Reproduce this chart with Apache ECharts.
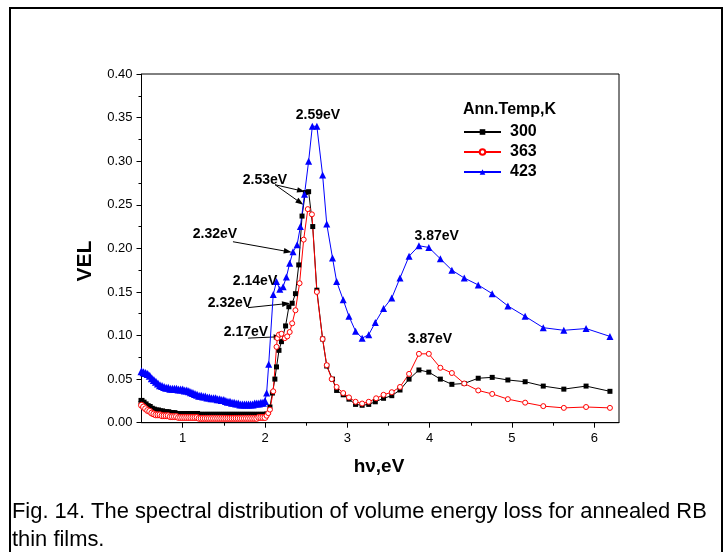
<!DOCTYPE html>
<html><head><meta charset="utf-8">
<script src="https://cdn.jsdelivr.net/npm/echarts@6/dist/echarts.min.js"></script>
<style>html,body{margin:0;padding:0;background:#fff}#c{width:726px;height:552px}</style>
</head><body><div id="c"></div>
<script>
// ---- data (photon energy hv in eV, VEL) ----
const denseE = [0.500,0.525,0.550,0.575,0.600,0.625,0.650,0.675,0.700,0.725,
  0.750,0.775,0.800,0.825,0.850,0.875,0.900,0.925,0.950,0.975,
  1.000,1.025,1.050,1.075,1.100,1.125,1.150,1.175,1.200,1.225,
  1.250,1.275,1.300,1.325,1.350,1.375,1.400,1.425,1.450,1.475,
  1.500,1.525,1.550,1.575,1.600,1.625,1.650,1.675,1.700,1.725,
  1.750,1.775,1.800,1.825,1.850,1.875,1.900,1.925,1.950,1.975,
  2.000];
const dense300 = [0.025,0.023,0.021,0.019,0.018,0.016,0.015,0.014,0.014,0.013,
  0.013,0.012,0.012,0.012,0.011,0.011,0.011,0.010,0.010,0.010,
  0.010,0.010,0.010,0.010,0.010,0.010,0.010,0.010,0.009,0.009,
  0.009,0.009,0.009,0.009,0.009,0.009,0.009,0.009,0.009,0.009,
  0.009,0.009,0.009,0.009,0.009,0.009,0.009,0.009,0.009,0.009,
  0.009,0.009,0.009,0.009,0.009,0.009,0.009,0.009,0.009,0.009,
  0.009];
const dense363 = [0.020,0.018,0.016,0.014,0.013,0.011,0.010,0.009,0.009,0.009,
  0.008,0.008,0.008,0.008,0.007,0.007,0.007,0.007,0.006,0.006,
  0.006,0.006,0.006,0.006,0.006,0.006,0.006,0.006,0.005,0.005,
  0.005,0.005,0.005,0.005,0.005,0.005,0.005,0.005,0.005,0.005,
  0.005,0.005,0.005,0.005,0.005,0.005,0.005,0.005,0.005,0.005,
  0.005,0.005,0.005,0.005,0.005,0.005,0.005,0.006,0.006,0.006,
  0.006];
const dense423 = [0.059,0.058,0.057,0.056,0.054,0.051,0.049,0.047,0.045,0.043,
  0.042,0.041,0.040,0.040,0.039,0.039,0.039,0.039,0.038,0.038,
  0.038,0.037,0.037,0.036,0.035,0.034,0.033,0.032,0.031,0.031,
  0.030,0.030,0.029,0.029,0.028,0.028,0.028,0.027,0.027,0.026,
  0.026,0.025,0.024,0.024,0.023,0.023,0.022,0.022,0.021,0.021,
  0.021,0.021,0.021,0.021,0.021,0.022,0.022,0.022,0.023,0.023,
  0.025];

const e300 = [2.02,2.06,2.09,2.12,2.14,2.17,2.20,2.25,2.29,2.33,2.37,2.41,2.45,2.49,2.53,2.58,2.63,2.70,2.75,2.82,
  2.87,2.95,3.02,3.10,3.18,3.26,3.34,3.44,3.54,3.64,3.75,3.87,3.99,4.13,4.27,4.42,4.59,4.76,4.95,5.16,5.38,5.63,5.90,6.19];
const v300 = [0.010,0.018,0.034,0.050,0.064,0.083,0.093,0.111,0.133,0.137,0.148,0.181,0.237,0.264,0.265,0.225,0.152,0.096,0.065,0.050,
  0.037,0.032,0.027,0.021,0.020,0.021,0.024,0.028,0.031,0.0375,0.050,0.0605,0.058,0.050,0.044,0.045,0.051,0.052,0.049,0.047,0.042,0.0385,0.042,0.036];

const e363 = [2.02,2.04,2.06,2.10,2.14,2.15,2.17,2.20,2.24,2.27,2.30,2.33,2.37,2.42,2.47,2.52,2.57,2.63,2.70,2.75,
  2.81,2.87,2.95,3.02,3.10,3.18,3.26,3.35,3.44,3.54,3.64,3.75,3.87,3.99,4.13,4.27,4.42,4.59,4.76,4.95,5.16,5.38,5.63,5.90,6.19];
const v363 = [0.008,0.011,0.015,0.036,0.087,0.097,0.101,0.102,0.097,0.099,0.104,0.114,0.129,0.160,0.210,0.245,0.239,0.150,0.096,0.066,
  0.050,0.041,0.034,0.029,0.024,0.022,0.024,0.028,0.032,0.035,0.041,0.056,0.079,0.079,0.063,0.057,0.045,0.037,0.033,0.027,0.023,0.019,0.017,0.018,0.017];

const e423 = [2.02,2.045,2.10,2.14,2.18,2.22,2.26,2.30,2.34,2.39,2.43,2.48,2.53,2.575,2.63,2.70,2.75,2.82,2.87,2.95,
  3.02,3.10,3.18,3.26,3.34,3.44,3.54,3.64,3.75,3.87,3.99,4.13,4.27,4.42,4.59,4.76,4.95,5.16,5.38,5.63,5.90,6.19];
const v423 = [0.034,0.067,0.147,0.162,0.153,0.156,0.167,0.183,0.196,0.204,0.225,0.262,0.300,0.340,0.340,0.284,0.228,0.189,0.162,0.141,
  0.122,0.105,0.097,0.101,0.115,0.131,0.143,0.166,0.191,0.203,0.201,0.188,0.175,0.166,0.158,0.148,0.134,0.122,0.109,0.106,0.108,0.099];

const seriesNames = ['300','363','423'];
const xTickValues = [1,2,3,4,5,6];
const xMinorValues = [1.5,2.5,3.5,4.5,5.5];

// annotations: text + anchor in data coords, optional arrows [from, to]
const annotations = [
  {text:'2.59eV', at:[2.644,0.353], arrows:[]},
  {text:'2.53eV', at:[2.00,0.278], arrows:[[[2.122,0.273],[2.486,0.265]],[[2.122,0.273],[2.466,0.250]]]},
  {text:'2.32eV', at:[1.393,0.2165], arrows:[[[1.611,0.2076],[2.325,0.1955]]]},
  {text:'2.14eV', at:[1.879,0.1625], arrows:[]},
  {text:'2.32eV', at:[1.575,0.137], arrows:[[[1.794,0.132],[2.304,0.137]]]},
  {text:'2.17eV', at:[1.769,0.1044], arrows:[[[1.794,0.097],[2.203,0.0987]]]},
  {text:'3.87eV', at:[4.086,0.214], arrows:[]},
  {text:'3.87eV', at:[4.004,0.0957], arrows:[]}
];

const FONT = '"Liberation Sans", Arial, sans-serif';
// dense low-energy points get a slightly bigger marker so they merge into a band
const pairs = (xs, ys, size) => xs.map((x,i)=> size ? {value:[x, ys[i]], symbolSize:size} : [x, ys[i]]);

const chart = echarts.init(document.getElementById('c'), null, {renderer:'canvas'});
const option = {
  animation:false,
  backgroundColor:'#fff',
  grid:{left:141.5, top:74, width:477.5, height:348.7, show:true, borderColor:'#000', borderWidth:1, backgroundColor:'transparent'},
  xAxis:[
    {type:'value', min:0.5, max:6.3, position:'bottom',
     axisLine:{show:true, onZero:false, lineStyle:{color:'#000', width:1}},
     splitLine:{show:false},
     axisTick:{show:true, customValues:xTickValues, length:5, lineStyle:{color:'#000'}},
     axisLabel:{customValues:xTickValues, color:'#000', fontSize:13, fontFamily:FONT, margin:9}},
    {type:'value', min:0.5, max:6.3, position:'bottom', offset:0,
     axisLine:{show:false}, splitLine:{show:false},
     axisTick:{show:true, customValues:xMinorValues, length:3, lineStyle:{color:'#000'}},
     axisLabel:{show:false}}
  ],
  yAxis:{type:'value', min:0, max:0.4, interval:0.05,
    axisLine:{show:true, onZero:false, lineStyle:{color:'#000', width:1}},
    axisTick:{show:true, length:5, lineStyle:{color:'#000'}},
    minorTick:{show:true, splitNumber:2, length:3, lineStyle:{color:'#000'}},
    splitLine:{show:false},
    axisLabel:{formatter:v=>v.toFixed(2), color:'#000', fontSize:13, fontFamily:FONT, margin:9}},
  legend:{orient:'vertical', left:463, top:124, padding:0, itemWidth:37, itemHeight:7, itemGap:4,
    textStyle:{fontSize:16, fontWeight:'bold', fontFamily:FONT, color:'#000', lineHeight:16, padding:[0,0,0,4]},
    data:seriesNames},
  series:[
    {name:seriesNames[0], type:'line', data:pairs(denseE,dense300,6).concat(pairs(e300,v300)),
     symbol:'rect', symbolSize:5, showAllSymbol:true, itemStyle:{color:'#000'}, lineStyle:{color:'#000', width:1}},
    {name:seriesNames[1], type:'line', data:pairs(denseE,dense363,6).concat(pairs(e363,v363)),
     symbol:'circle', symbolSize:5, showAllSymbol:true, itemStyle:{color:'#fff', borderColor:'#ff0000', borderWidth:1}, lineStyle:{color:'#ff0000', width:1}},
    {name:seriesNames[2], type:'line', data:pairs(denseE,dense423,8).concat(pairs(e423,v423)),
     symbol:'triangle', symbolSize:7, showAllSymbol:true, itemStyle:{color:'#0000ff'}, lineStyle:{color:'#0000ff', width:1}}
  ]
};
chart.setOption(option);

const g = [
  {type:'rect', shape:{x:10, y:8, width:712, height:600}, style:{fill:'none', stroke:'#000', lineWidth:2}, silent:true},
  {type:'text', x:85, y:261, rotation:Math.PI/2, style:{text:'VEL', font:'bold 21px '+FONT, fill:'#000', textAlign:'center', textVerticalAlign:'middle'}},
  {type:'text', x:379, y:467, style:{text:'h\u03bd,eV', font:'bold 19px '+FONT, fill:'#000', textAlign:'center', textVerticalAlign:'middle'}},
  {type:'text', x:463, y:110, style:{text:'Ann.Temp,K', font:'bold 16px '+FONT, fill:'#000', textAlign:'left', textVerticalAlign:'middle'}},
  {type:'text', x:12, y:512, style:{text:'Fig. 14. The spectral distribution of volume energy loss for annealed RB', font:'21.9px '+FONT, fill:'#000', textAlign:'left', textVerticalAlign:'middle'}},
  {type:'text', x:12, y:540, style:{text:'thin films.', font:'21.9px '+FONT, fill:'#000', textAlign:'left', textVerticalAlign:'middle'}}
];
const px = p => chart.convertToPixel({xAxisIndex:0, yAxisIndex:0}, p);
annotations.forEach(a=>{
  const c = px(a.at);
  g.push({type:'text', x:c[0], y:c[1], style:{text:a.text, font:'bold 14px '+FONT, fill:'#000', textAlign:'center', textVerticalAlign:'middle'}});
  a.arrows.forEach(ar=>{
    const s = px(ar[0]), e = px(ar[1]);
    const dx = e[0]-s[0], dy = e[1]-s[1], L = Math.hypot(dx,dy);
    const ux = dx/L, uy = dy/L, nx = -uy, ny = ux, hl = 8, hw = 2.8;
    g.push({type:'line', shape:{x1:s[0], y1:s[1], x2:e[0]-ux*hl*0.6, y2:e[1]-uy*hl*0.6}, style:{stroke:'#000', lineWidth:1}});
    g.push({type:'polygon', shape:{points:[[e[0],e[1]],[e[0]-ux*hl+nx*hw, e[1]-uy*hl+ny*hw],[e[0]-ux*hl-nx*hw, e[1]-uy*hl-ny*hw]]}, style:{fill:'#000'}});
  });
});
chart.setOption({graphic:g});
</script></body></html>
